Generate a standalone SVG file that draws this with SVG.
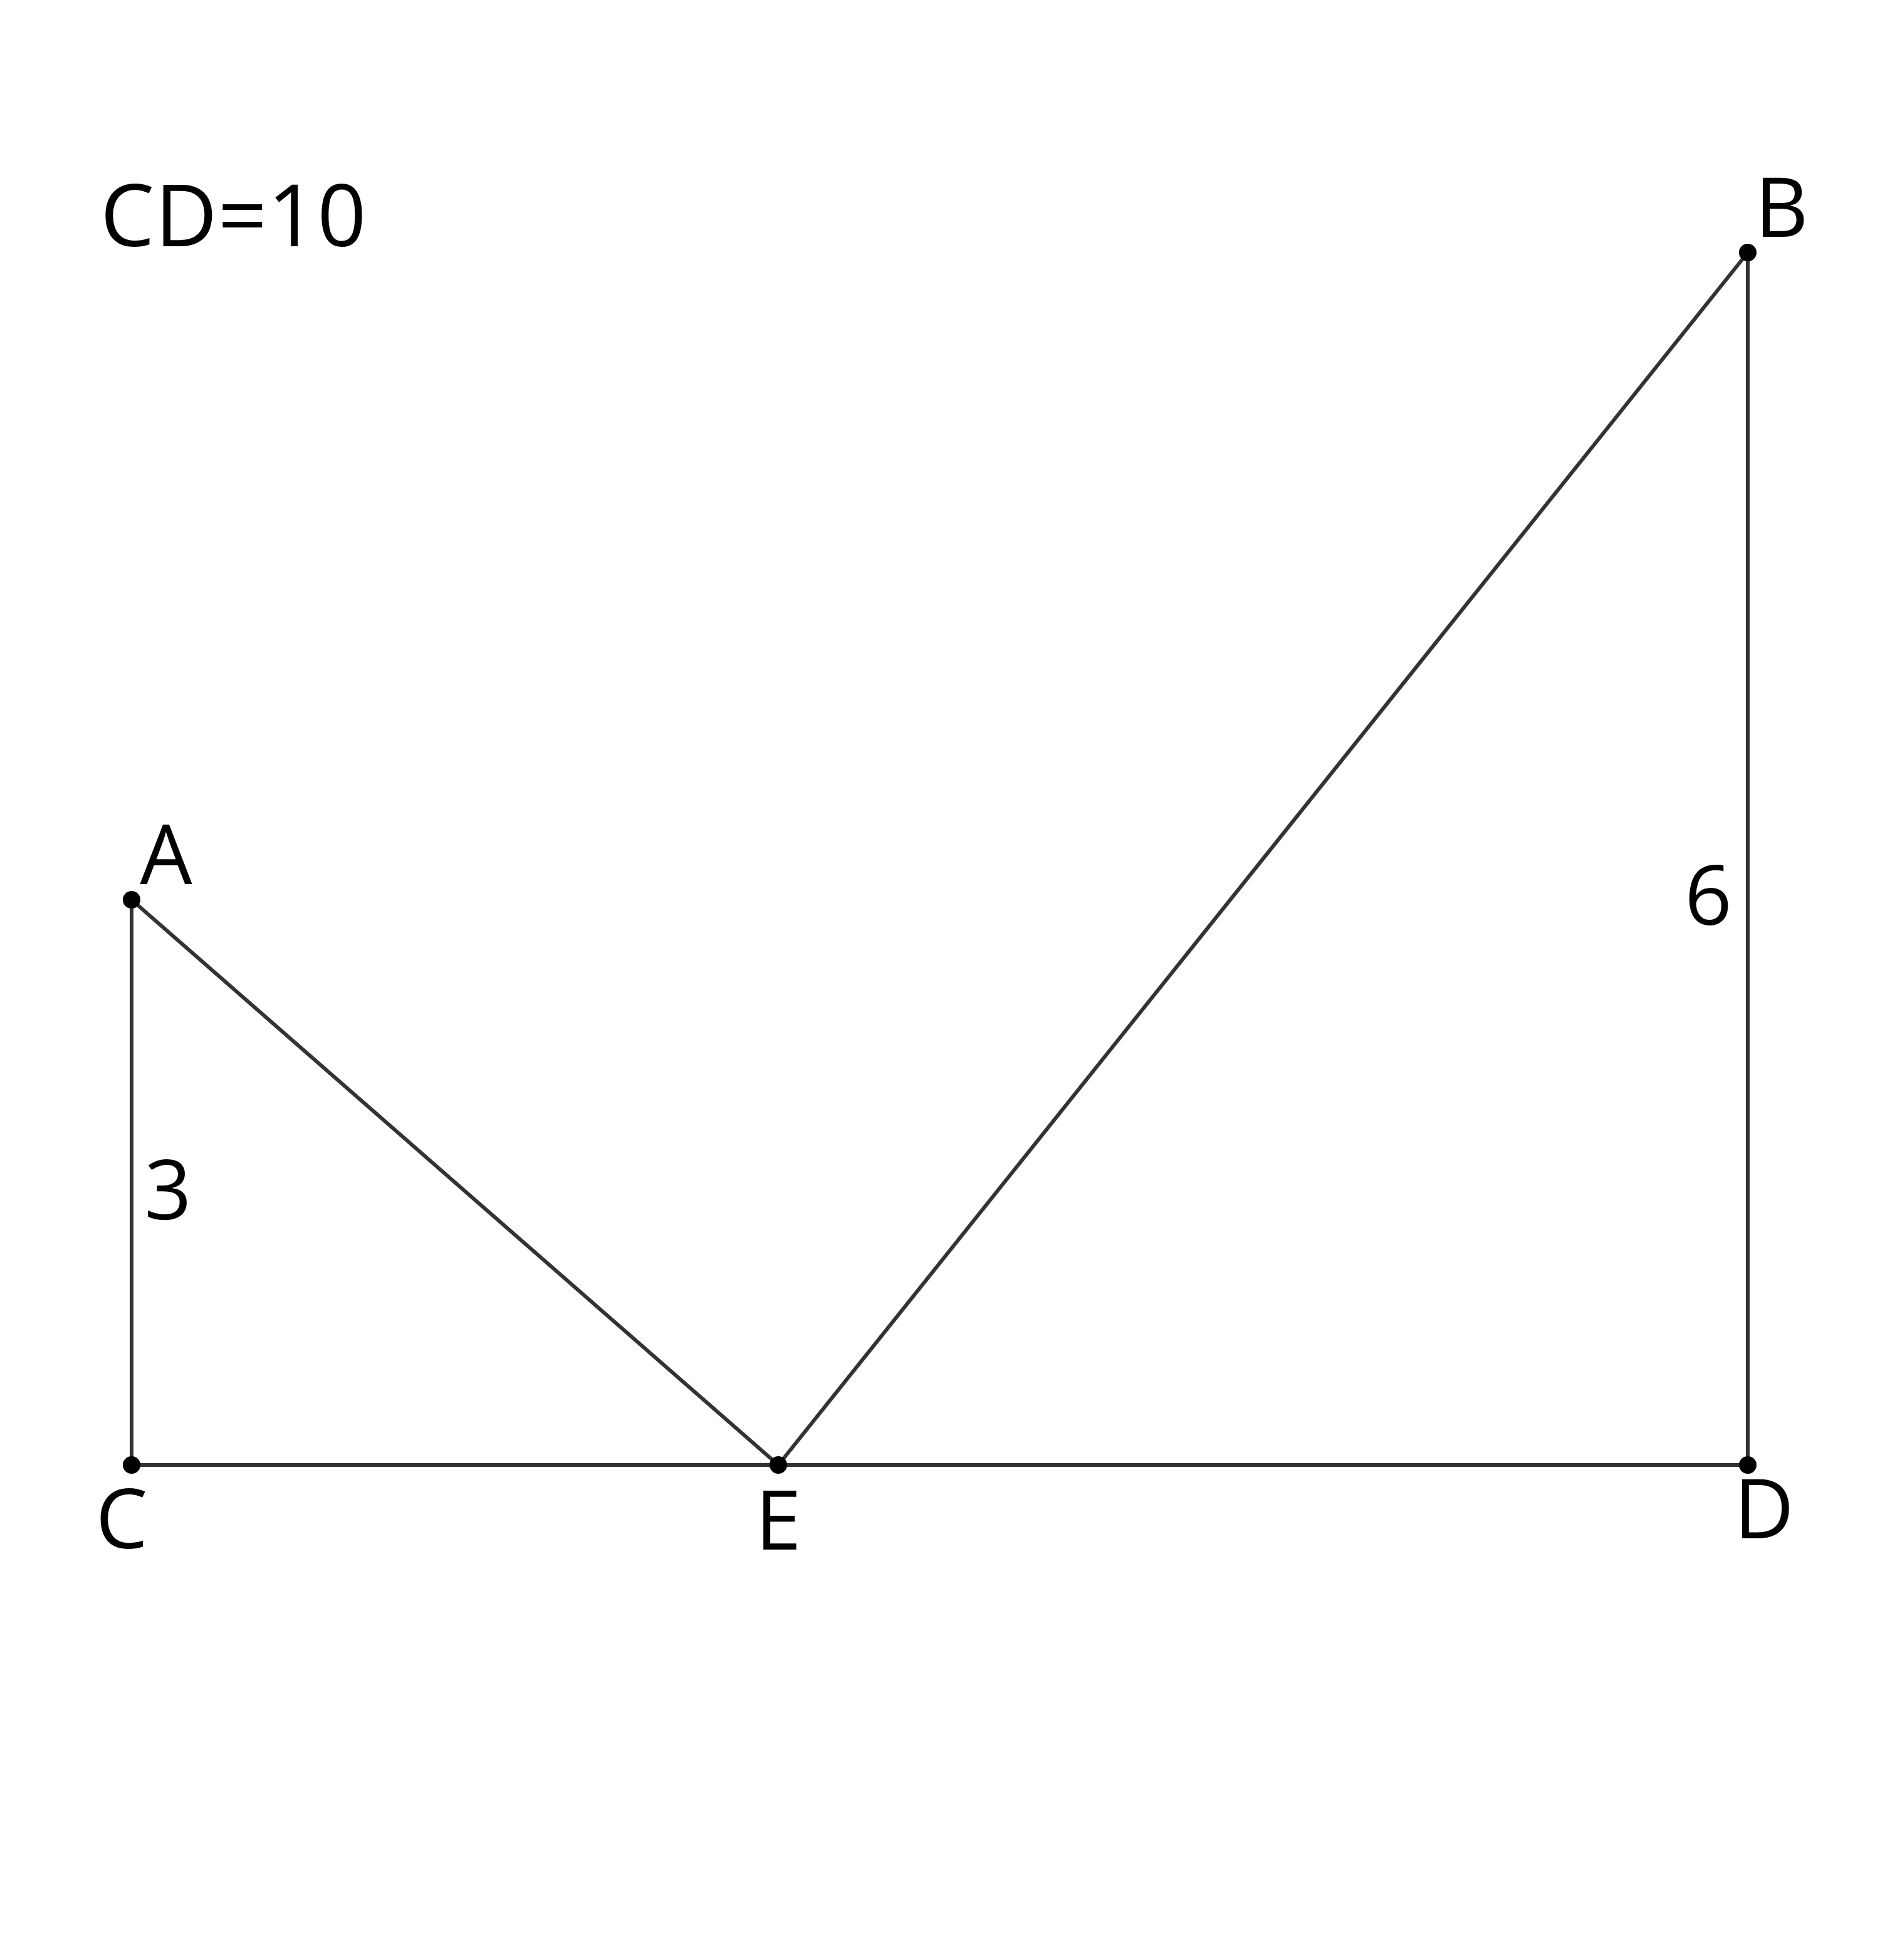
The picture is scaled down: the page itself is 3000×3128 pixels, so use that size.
<svg xmlns="http://www.w3.org/2000/svg" width="3000" height="3128" viewBox="0 0 3000 3128">
<style>
.ln{stroke:#333;stroke-width:6;fill:none;stroke-linecap:round}
.pt{fill:#000}
.lb{font-family:"Open Sans","Noto Sans","DejaVu Sans",sans-serif;font-size:132px;fill:#000;text-anchor:middle}
</style>
<rect width="3000" height="3128" fill="#fff"/>
<g id="connectors">
<line class="ln" x1="210" y1="1436" x2="210" y2="2338"/>
<line class="ln" x1="210" y1="2338" x2="2789" y2="2338"/>
<line class="ln" x1="210" y1="1436" x2="1242" y2="2338"/>
<line class="ln" x1="1242" y1="2338" x2="2789" y2="403"/>
<line class="ln" x1="2789" y1="403" x2="2789" y2="2338"/>
</g>
<g id="A"><circle class="pt" cx="210" cy="1436" r="14"/><text class="lb" x="265" y="1411">A</text></g>
<g id="B"><circle class="pt" cx="2789" cy="403" r="14"/><text class="lb" x="2843" y="378">B</text></g>
<g id="C"><circle class="pt" cx="210" cy="2338" r="14"/><text class="lb" x="194" y="2471">C</text></g>
<g id="E"><circle class="pt" cx="1242" cy="2338" r="14"/><text class="lb" x="1242" y="2473">E</text></g>
<g id="D"><circle class="pt" cx="2789" cy="2338" r="14"/><text class="lb" x="2815" y="2455">D</text></g>
<g id="labels">
<text class="lb" x="268" y="1946">3</text>
<text class="lb" x="2726" y="1476">6</text>
<text class="lb" x="160" y="393" style="text-anchor:start;font-size:137px;letter-spacing:1px">CD=10</text>
</g>
</svg>
